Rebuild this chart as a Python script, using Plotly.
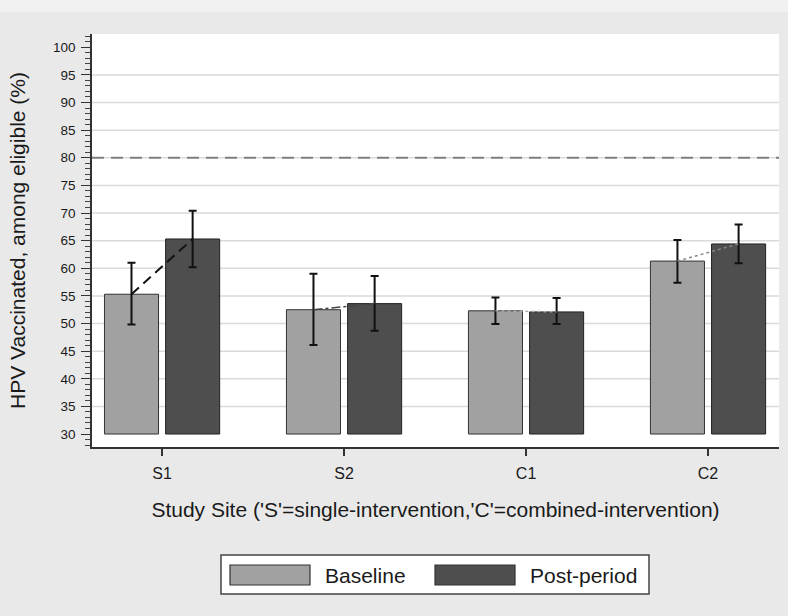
import plotly.graph_objects as go

# ---- data ----
sites = ["S1", "S2", "C1", "C2"]
series_names = ["Baseline", "Post-period"]
baseline = [55.3, 52.5, 52.3, 61.3]
baseline_lo = [49.8, 46.1, 49.9, 57.4]
baseline_hi = [61.0, 59.0, 54.7, 65.1]
post = [65.3, 53.6, 52.1, 64.4]
post_lo = [60.2, 48.7, 49.9, 60.9]
post_hi = [70.4, 58.6, 54.6, 67.9]
target_level = 80
y_ticks = list(range(30, 101, 5))
grid_levels = list(range(35, 100, 5))

# ---- style ----
W, H = 788, 616
ML, MR, MT, MB = 92, 9, 34, 169
PW, PH = W - ML - MR, H - MT - MB
FONT = "Liberation Sans, Arial, sans-serif"
TXT = "#1a1a1a"
COL_BASE = "#a1a1a1"
COL_POST = "#4e4e4e"
BAR_W = 0.297
HALF_OFF = 0.168
link_styles = [
    dict(color="#111111", width=2, dash="10px,6px"),
    dict(color="#444444", width=1.5, dash="dashdot"),
    dict(color="#aaaaaa", width=1.5, dash="dot"),
    dict(color="#888888", width=1.5, dash="dot"),
]

def px_x(p):
    return (p - ML) / PW

def px_y(p):
    return 1 - (p - MT) / PH

idx = list(range(len(sites)))
x_base = [i - HALF_OFF for i in idx]
x_post = [i + HALF_OFF for i in idx]

fig = go.Figure()

fig.add_trace(go.Bar(
    x=x_base, y=[v - 30 for v in baseline], base=30, width=BAR_W,
    name=series_names[0],
    marker=dict(color=COL_BASE, line=dict(color="#333333", width=1)),
    error_y=dict(type="data", symmetric=False,
                 array=[h - v for h, v in zip(baseline_hi, baseline)],
                 arrayminus=[v - l for v, l in zip(baseline, baseline_lo)],
                 color="#111111", thickness=2, width=4),
    showlegend=False,
))
fig.add_trace(go.Bar(
    x=x_post, y=[v - 30 for v in post], base=30, width=BAR_W,
    name=series_names[1],
    marker=dict(color=COL_POST, line=dict(color="#222222", width=1)),
    error_y=dict(type="data", symmetric=False,
                 array=[h - v for h, v in zip(post_hi, post)],
                 arrayminus=[v - l for v, l in zip(post, post_lo)],
                 color="#111111", thickness=2, width=4),
    showlegend=False,
))

for i in idx:
    fig.add_trace(go.Scatter(
        x=[x_base[i], x_post[i]], y=[baseline[i], post[i]],
        mode="lines", line=link_styles[i], showlegend=False, hoverinfo="skip",
    ))

for g in grid_levels:
    fig.add_hline(y=g, line=dict(color="#dadada", width=1.5), layer="below")

fig.add_hline(y=target_level, line=dict(color="#808080", width=2, dash="12px,7px"), layer="above")

shapes = []
# top lighter strip of the page
shapes.append(dict(type="rect", xref="paper", yref="paper",
                   x0=px_x(0), x1=px_x(W), y0=px_y(12), y1=px_y(0),
                   fillcolor="#f1f1f1", line=dict(width=0), layer="below"))
# legend box
shapes.append(dict(type="rect", xref="paper", yref="paper",
                   x0=px_x(221), x1=px_x(649), y0=px_y(594), y1=px_y(555),
                   fillcolor="white", line=dict(color="#444444", width=1.5)))
legend_items = [(series_names[0], COL_BASE, 230, 323), (series_names[1], COL_POST, 435, 528)]
annotations = []
for name, col, sx, tx in legend_items:
    shapes.append(dict(type="rect", xref="paper", yref="paper",
                       x0=px_x(sx), x1=px_x(sx + 80), y0=px_y(585), y1=px_y(565),
                       fillcolor=col, line=dict(color="#333333", width=1.2)))
    annotations.append(dict(text=name, xref="paper", yref="paper",
                            x=px_x(tx), y=px_y(575), xanchor="left", yanchor="middle",
                            showarrow=False, font=dict(family=FONT, size=21, color=TXT)))

fig.update_layout(
    width=W, height=H,
    margin=dict(l=ML, r=MR, t=MT, b=MB, autoexpand=False),
    paper_bgcolor="#e9e9e9", plot_bgcolor="white",
    barmode="overlay",
    font=dict(family=FONT, color=TXT),
    shapes=list(fig.layout.shapes) + shapes,
    annotations=annotations,
    xaxis=dict(
        range=[-0.385, 3.39], tickmode="array", tickvals=idx, ticktext=sites,
        showgrid=False, zeroline=False, showline=True, linecolor="#333333", linewidth=1.5,
        ticks="outside", ticklen=7, tickwidth=1.5, tickcolor="#333333",
        tickfont=dict(size=16, color=TXT),
        ticklabelstandoff=4,
        title=dict(text="Study Site ('S'=single-intervention,'C'=combined-intervention)",
                   font=dict(size=21, color=TXT), standoff=21),
        automargin=False,
    ),
    yaxis=dict(
        range=[27.65, 102.4], tickmode="array", tickvals=y_ticks,
        showgrid=False, zeroline=False, showline=True, linecolor="#333333", linewidth=1.5,
        ticks="outside", ticklen=9, tickwidth=1.2, tickcolor="#333333",
        minor=dict(dtick=1, ticks="outside", ticklen=5, tickwidth=1, tickcolor="#444444", showgrid=False),
        tickfont=dict(size=13.5, color=TXT),
        ticklabelstandoff=3,
        title=dict(text="HPV Vaccinated, among eligible (%)", font=dict(size=21, color=TXT), standoff=22),
        automargin=False,
    ),
)

fig.write_html(
    "out.html",
    config={"displayModeBar": False},
    post_script="document.body.style.margin='0';document.body.style.overflow='hidden';",
)
